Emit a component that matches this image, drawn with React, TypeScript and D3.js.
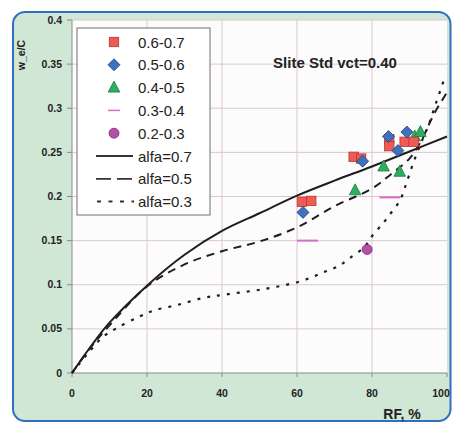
import React from 'react';
import * as d3 from 'd3';

// RF % vs w_e/C
const sq67 = [[61.3, 0.194], [63.8, 0.195], [75.1, 0.245], [77.1, 0.243], [84.6, 0.265], [84.6, 0.257], [88.7, 0.262], [91.1, 0.262]];
const dia56 = [[61.6, 0.182], [77.5, 0.240], [84.4, 0.268], [86.9, 0.252], [89.3, 0.273]];
const tri45 = [[75.5, 0.207], [83.1, 0.234], [87.4, 0.228], [91.4, 0.268], [92.9, 0.273]];
const dash34 = [[62.8, 0.150], [84.8, 0.199]];
const circ23 = [[78.7, 0.140]];

const alfa07 = [[0, 0], [5, 0.03], [10, 0.057], [20, 0.099], [30, 0.134], [40, 0.161], [50, 0.181], [60, 0.201], [70, 0.218], [80, 0.234], [90, 0.251], [100, 0.268]];
const alfa05 = [[0, 0], [5, 0.029], [10, 0.054], [20, 0.098], [30, 0.123], [40, 0.138], [50, 0.149], [60, 0.165], [70, 0.189], [80, 0.209], [85, 0.225], [90, 0.243], [93, 0.262], [95, 0.28], [97, 0.297], [100, 0.318]];
const alfa03 = [[0, 0], [3, 0.016], [5, 0.026], [8, 0.04], [12, 0.051], [18, 0.064], [22, 0.071], [28, 0.077], [35, 0.085], [41, 0.089], [51, 0.095], [61, 0.104], [67, 0.114], [71, 0.121], [74, 0.13], [78, 0.143], [80, 0.155], [83, 0.17], [85, 0.181], [87.5, 0.196], [89, 0.213], [91, 0.238], [93, 0.26], [95, 0.28], [97, 0.305], [99.5, 0.336]];

const xTicks = [0, 20, 40, 60, 80, 100];
const yTicks = [0, 0.05, 0.1, 0.15, 0.2, 0.25, 0.3, 0.35, 0.4];
const legendLabels = ['0.6-0.7', '0.5-0.6', '0.4-0.5', '0.3-0.4', '0.2-0.3', 'alfa=0.7', 'alfa=0.5', 'alfa=0.3'];

const W = 452, H = 423;
const font = '"Liberation Sans", Arial, sans-serif';

export default function App() {
  const x = d3.scaleLinear().domain([0, 100]).range([72, 447]);
  const y = d3.scaleLinear().domain([0, 0.4]).range([373, 20]);
  const line = d3.line<number[]>().x(d => x(d[0])).y(d => y(d[1])).curve(d3.curveCatmullRom.alpha(0.5));

  const square = (cx: number, cy: number, k: any) => (
    <rect key={k} x={cx - 4.7} y={cy - 4.7} width={9.4} height={9.4} fill="#f05a52" stroke="#b23a35" strokeWidth={0.8} />
  );
  const diamond = (cx: number, cy: number, k: any) => (
    <path key={k} d={`M${cx},${cy - 6}L${cx + 6},${cy}L${cx},${cy + 6}L${cx - 6},${cy}Z`} fill="#3f72bd" stroke="#1f3f78" strokeWidth={0.8} />
  );
  const triangle = (cx: number, cy: number, k: any) => (
    <path key={k} d={`M${cx},${cy - 6.5}L${cx + 5.8},${cy + 4.5}L${cx - 5.8},${cy + 4.5}Z`} fill="#2fae62" stroke="#1d7a40" strokeWidth={0.8} />
  );
  const circle = (cx: number, cy: number, k: any) => (
    <circle key={k} cx={cx} cy={cy} r={5} fill="#b550a8" stroke="#7a2a70" strokeWidth={0.8} />
  );
  const pinkDash = (cx: number, cy: number, k: any) => (
    <line key={k} x1={cx - 10.5} x2={cx + 10.5} y1={cy} y2={cy} stroke="#d46fc4" strokeWidth={2} />
  );

  const lx = 77, ly = 28, lw = 133, lh = 187;
  const rowY = (i: number) => 42 + i * 22.8;

  return (
    <svg width={W} height={H} style={{ position: 'absolute', left: 0, top: 0 }} fontFamily={font}>
      <rect x={0} y={0} width={W} height={H} fill="#fff" />
      <rect x={13} y={12} width={437.5} height={409} rx={12} fill="#cfe7d4" stroke="#2d70c2" strokeWidth={2} />
      <rect x={x(0)} y={y(0.4)} width={x(100) - x(0)} height={y(0) - y(0.4)} fill="#fcfcfc" />
      {xTicks.slice(1, -1).map(t => (
        <line key={'gx' + t} x1={x(t)} x2={x(t)} y1={y(0)} y2={y(0.4)} stroke="#dcc6cf" strokeWidth={1} />
      ))}
      {yTicks.slice(1).map(t => (
        <line key={'gy' + t} x1={x(0)} x2={x(100)} y1={y(t)} y2={y(t)} stroke="#dcc6cf" strokeWidth={1} />
      ))}
      <line x1={x(0)} x2={x(0)} y1={y(0)} y2={y(0.4)} stroke="#8a8a8a" strokeWidth={1} />
      <line x1={x(0)} x2={x(100)} y1={y(0)} y2={y(0)} stroke="#8a8a8a" strokeWidth={1} />
      {yTicks.map(t => (
        <g key={'ty' + t}>
          <line x1={x(0) - 5} x2={x(0)} y1={y(t)} y2={y(t)} stroke="#8a8a8a" />
          <text x={62} y={y(t) + 3.5} textAnchor="end" fontSize={10.5} fontWeight="bold" fill="#222">{t === 0 ? '0' : String(t)}</text>
        </g>
      ))}
      {xTicks.map(t => (
        <g key={'tx' + t}>
          <line x1={x(t)} x2={x(t)} y1={y(0)} y2={y(0) + 4} stroke="#8a8a8a" />
          <text x={x(t) - (t === 100 ? 6 : 0)} y={397} textAnchor="middle" fontSize={10.5} fontWeight="bold" fill="#222">{t}</text>
        </g>
      ))}
      <text transform="translate(25,55) rotate(-90)" textAnchor="middle" fontSize={10.5} fontWeight="bold" fill="#222">w_e/C</text>
      <text x={402} y={419} textAnchor="middle" fontSize={14} fontWeight="bold" fill="#222">RF, %</text>
      <text x={335} y={68} textAnchor="middle" fontSize={15} fontWeight="bold" fill="#222">Slite Std vct=0.40</text>

      <path d={line(alfa07) || ''} fill="none" stroke="#1e1e1e" strokeWidth={2} />
      <path d={line(alfa05) || ''} fill="none" stroke="#1e1e1e" strokeWidth={2} strokeDasharray="8,6" />
      <path d={line(alfa03) || ''} fill="none" stroke="#1e1e1e" strokeWidth={2.2} strokeDasharray="3,7" />

      {dash34.map((d, i) => pinkDash(x(d[0]), y(d[1]), 'p' + i))}
      {circ23.map((d, i) => circle(x(d[0]), y(d[1]), 'c' + i))}
      {tri45.map((d, i) => triangle(x(d[0]), y(d[1]), 't' + i))}
      {sq67.map((d, i) => square(x(d[0]), y(d[1]), 's' + i))}
      {dia56.map((d, i) => diamond(x(d[0]), y(d[1]), 'd' + i))}

      <rect x={lx} y={ly} width={lw} height={lh} fill="#fff" stroke="#6e6e6e" strokeWidth={1} />
      {square(114, rowY(0), 'ls')}
      {diamond(114, rowY(1), 'ld')}
      {triangle(114, rowY(2), 'lt')}
      <line x1={108} x2={120} y1={rowY(3)} y2={rowY(3)} stroke="#d46fc4" strokeWidth={1.5} />
      {circle(114, rowY(4), 'lc')}
      <line x1={96} x2={133} y1={rowY(5)} y2={rowY(5)} stroke="#333" strokeWidth={1.8} />
      <line x1={96} x2={133} y1={rowY(6)} y2={rowY(6)} stroke="#333" strokeWidth={1.8} strokeDasharray="15,6" />
      <line x1={97} x2={134} y1={rowY(7)} y2={rowY(7)} stroke="#333" strokeWidth={2} strokeDasharray="4,7.5" />
      {legendLabels.map((s, i) => (
        <text key={'lg' + i} x={138} y={rowY(i) + 5.5} fontSize={15} fill="#222">{s}</text>
      ))}
    </svg>
  );
}
